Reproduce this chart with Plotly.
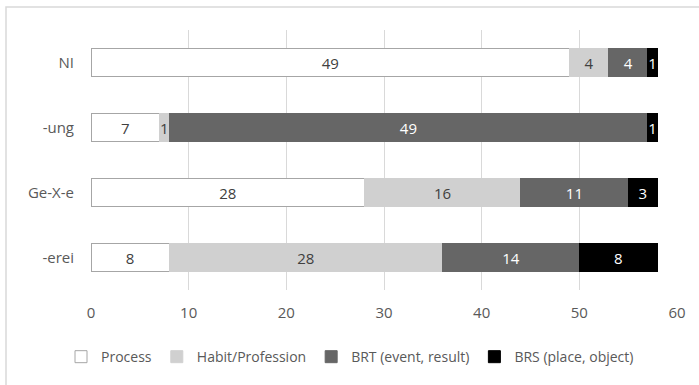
import plotly.graph_objects as go

categories = ["-erei", "Ge-X-e", "-ung", "NI"]
process = [8, 28, 7, 49]
habit = [28, 16, 1, 4]
brt = [14, 11, 49, 4]
brs = [8, 3, 1, 1]
series_names = ["Process", "Habit/Profession", "BRT (event, result)", "BRS (place, object)"]
tick_vals = [0, 10, 20, 30, 40, 50, 60]

font_family = "Open Sans, Liberation Sans, sans-serif"

fills = ["#ffffff", "#d0d0d0", "#666666", "#000000"]
lines = ["#a6a6a6", "#d0d0d0", "#666666", "#000000"]
text_colors = ["#404040", "#404040", "#ffffff", "#ffffff"]

fig = go.Figure()
for name, vals, fc, lc, tc in zip(series_names, [process, habit, brt, brs], fills, lines, text_colors):
    fig.add_trace(go.Bar(
        y=categories, x=vals, name=name, orientation="h",
        marker=dict(color=fc, line=dict(color=lc, width=1)),
        text=[str(v) for v in vals], textposition="inside",
        insidetextanchor="middle", constraintext="none",
        textfont=dict(color=tc, size=15, family=font_family),
        width=0.42,
    ))

fig.update_layout(
    barmode="stack",
    width=699, height=385,
    margin=dict(l=91, r=22, t=30, b=95),
    paper_bgcolor="white", plot_bgcolor="white",
    font=dict(family=font_family, size=15, color="#595959"),
    xaxis=dict(range=[0, 60], tickvals=tick_vals, showgrid=True, gridcolor="#d9d9d9",
               gridwidth=1, zeroline=False, showline=False, ticks="",
               ticklabelstandoff=12,
               tickfont=dict(size=15, color="#595959")),
    yaxis=dict(categoryorder="array", categoryarray=categories, range=[-0.5, 3.5],
               showgrid=False, zeroline=False, showline=False, ticks="", ticklen=0,
               ticklabelstandoff=16,
               tickfont=dict(size=15, color="#595959")),
    legend=dict(orientation="h", x=(350 - 91) / 586, xanchor="center", y=-0.258, yanchor="middle",
                itemwidth=30, font=dict(size=14, color="#595959"),
                traceorder="normal", tracegroupgap=0),
    showlegend=True,
    bargap=0.58,
)
fig.add_shape(type="rect", xref="paper", yref="paper",
              x0=(6 - 91) / 586, x1=1.2, y0=-0.5, y1=(290 - 7) / 260,
              line=dict(color="#d9d9d9", width=1.5), fillcolor="rgba(0,0,0,0)", layer="below")

fig.write_html("out.html")
